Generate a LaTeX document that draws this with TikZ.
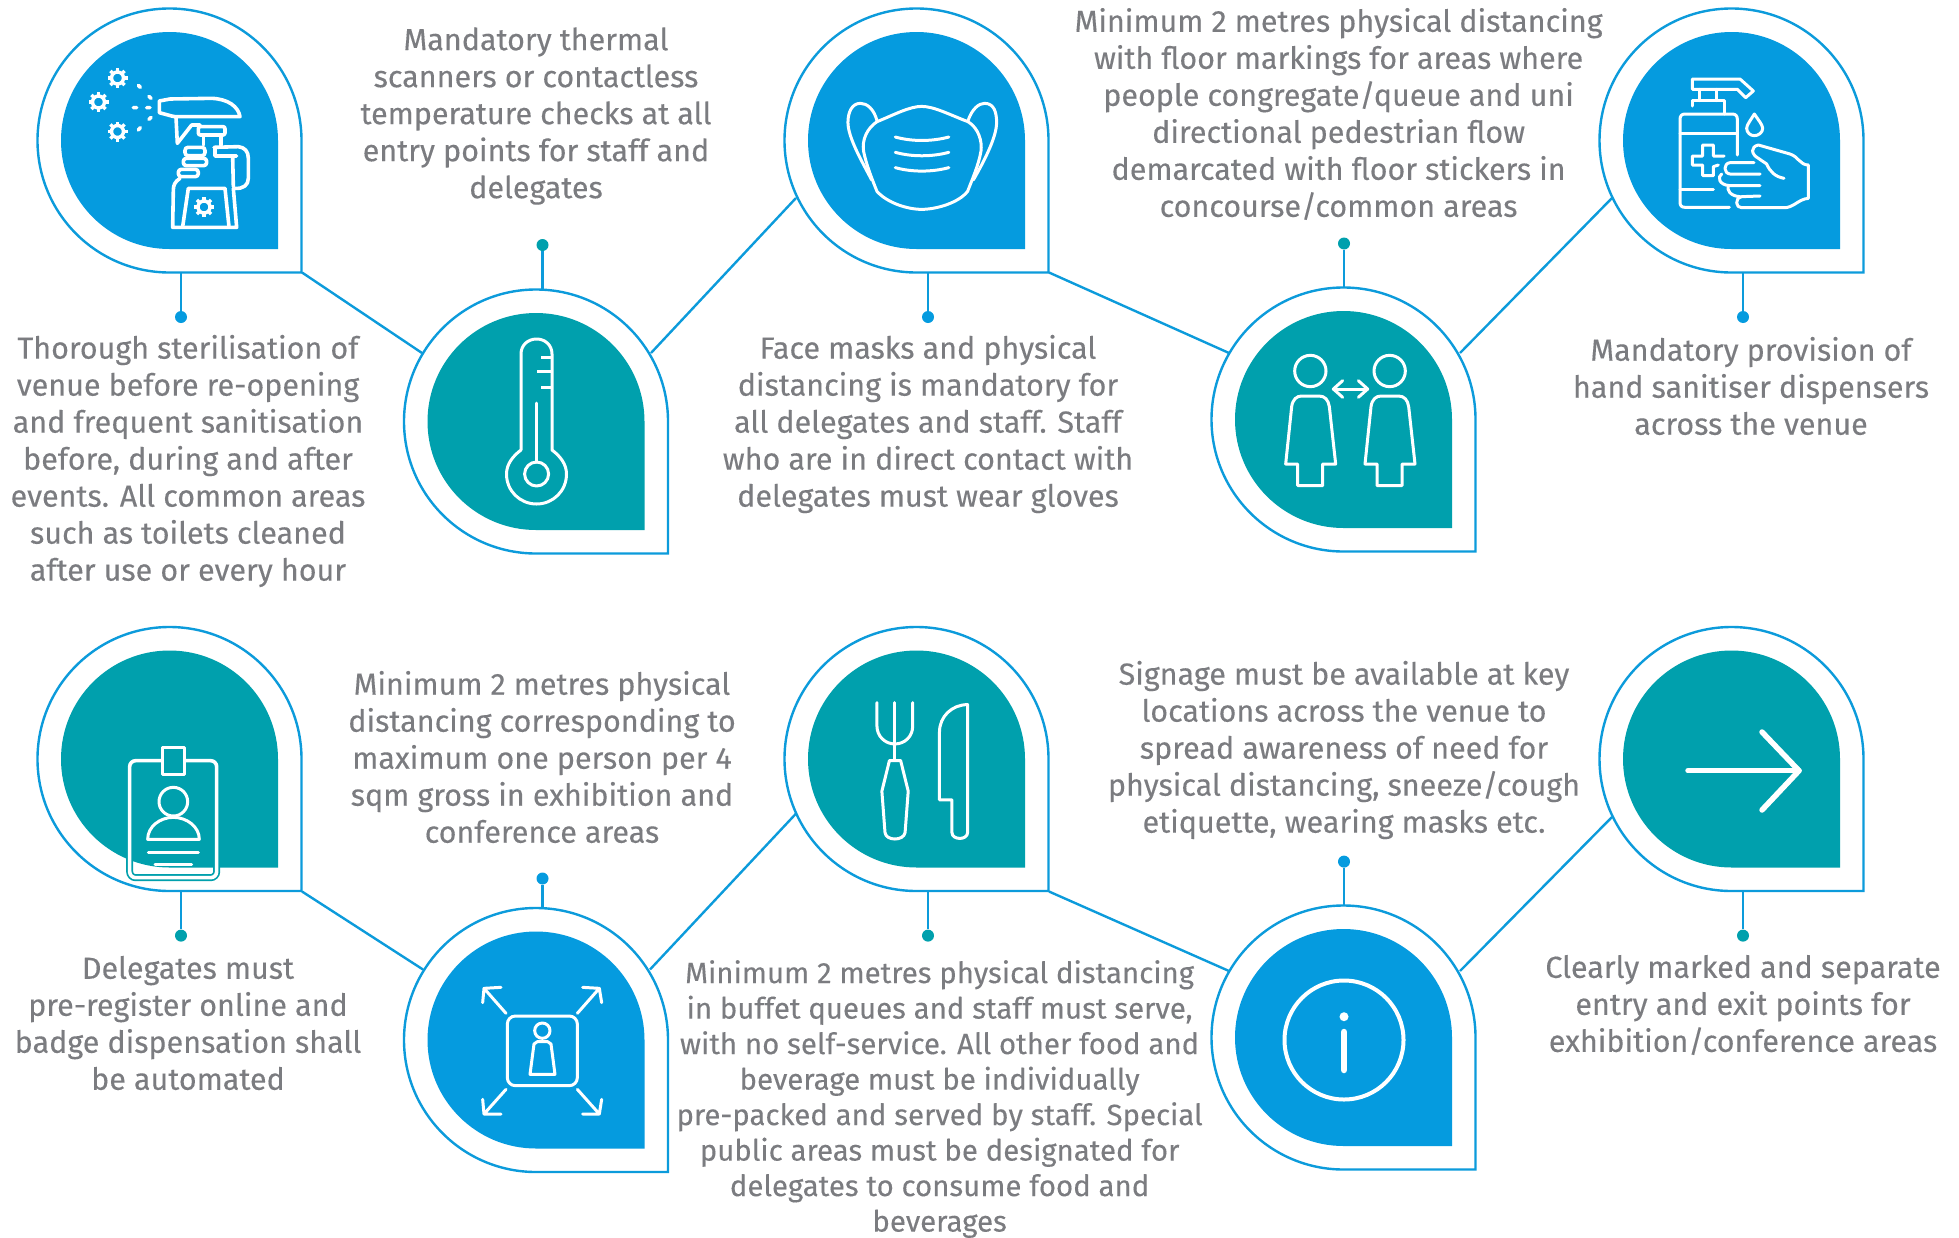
\documentclass[tikz,border=0pt]{standalone}
\usepackage{fontspec}
\setmainfont{Fira Sans}[FakeBold=0.25]
\definecolor{pblue}{HTML}{059BDF}
\definecolor{pteal}{HTML}{00A0AD}
\definecolor{pline}{HTML}{0C9BDB}
\definecolor{ptext}{HTML}{7B7C80}
\newcommand{\pinpath}{(1,0) .. controls (1,-.5523) and (.5523,-1) .. (0,-1) .. controls (-.5523,-1) and (-1,-.5523) .. (-1,0) .. controls (-1,.5523) and (-.5523,1) .. (0,1) -- (1,1) -- cycle}
\newcommand{\pindraw}[2]{%
  \draw[pinout,shift={(#1)},scale=132] \pinpath;
  \fill[#2,shift={(#1)},scale=108.5] \pinpath;}
\newcommand{\gearat}[3]{%
  \begin{scope}[shift={(#1,#2)}]
    \draw[white,line width=3.4pt,line cap=butt] (0,0) circle[radius=#3*0.6];
    \foreach \a in {0,45,...,315}{\draw[white,line width=3.4pt,line cap=butt] (\a:#3*0.7) -- (\a:#3);}
  \end{scope}}
\tikzset{
  pinout/.style={draw=pline,fill=white,line width=2.4pt},
  link/.style={draw=pline,line width=2.4pt},
  ico/.style={draw=white,line width=3pt,line cap=round,line join=round},
  icob/.style={ico,line width=3.6pt},
  dotb/.style={circle,fill=pblue,minimum size=12pt,inner sep=0pt},
  dott/.style={circle,fill=pteal,minimum size=12pt,inner sep=0pt},
  body/.style={text=ptext,align=center,inner sep=0pt,font=\fontsize{30.5}{37}\selectfont},
  bodysm/.style={text=ptext,align=center,inner sep=0pt,font=\fontsize{29.4}{35.5}\selectfont},
  cropa/.style={xscale=1/2.24,yscale=1/2.613},
  cropb/.style={xscale=1/2.24,yscale=1/2.541},
  cropt/.style={scale=1/3}
}
\begin{document}
\begin{tikzpicture}[x=1pt,y=-1pt]
\useasboundingbox (0,0) rectangle (1959,1237);
% pin centres
\coordinate (p1) at (169.5,140.5);
\coordinate (p2) at (536,421.5);
\coordinate (p3) at (916.5,140.5);
\coordinate (p4) at (1343.5,419.5);
\coordinate (p5) at (1731.5,140.5);
\coordinate (p6) at (169.5,759);
\coordinate (p7) at (536,1040);
\coordinate (p8) at (916.5,759);
\coordinate (p9) at (1343.5,1037.5);
\coordinate (p10) at (1731.5,759);
% connector ends
\coordinate (c1) at (302,272.5);
\coordinate (c2l) at (422,353);
\coordinate (c2r) at (651,353);
\coordinate (c3l) at (796,198);
\coordinate (c3) at (1049,272.5);
\coordinate (c4l) at (1229,353);
\coordinate (c4r) at (1460,353);
\coordinate (c5l) at (1612,198);
\coordinate (c6) at (302,891.5);
\coordinate (c7l) at (423,969.5);
\coordinate (c7r) at (650,969.5);
\coordinate (c8l) at (796,813.6);
\coordinate (c8) at (1049,891.5);
\coordinate (c9l) at (1229,971);
\coordinate (c9r) at (1460,971);
\coordinate (c10l) at (1612,817);
\coordinate (s1) at (181,272.5);
\coordinate (s2) at (542.5,290);
\coordinate (s3) at (928,272.5);
\coordinate (s4) at (1344,287);
\coordinate (s5) at (1743,272.5);
\coordinate (s6) at (181,891.5);
\coordinate (s7) at (542.5,908);
\coordinate (s8) at (928,891.5);
\coordinate (s9) at (1344,905);
\coordinate (s10) at (1743,891.5);
% dots
\node[dotb] (d1) at (181,317) {};
\node[dott] (d2) at (542.5,245) {};
\node[dotb] (d3) at (928,317) {};
\node[dott] (d4) at (1344,243.5) {};
\node[dotb] (d5) at (1743,317) {};
\node[dott] (d6) at (181,935.6) {};
\node[dotb] (d7) at (542.5,878.5) {};
\node[dott] (d8) at (928,935.6) {};
\node[dotb] (d9) at (1344,861.6) {};
\node[dott] (d10) at (1743,935.6) {};
% connectors
\draw[link] (c1) -- (c2l);
\draw[link] (c2r) -- (c3l);
\draw[link] (c3) -- (c4l);
\draw[link] (c4r) -- (c5l);
\draw[link] (c6) -- (c7l);
\draw[link] (c7r) -- (c8l);
\draw[link] (c8) -- (c9l);
\draw[link] (c9r) -- (c10l);
\foreach \n in {1,...,10}{\draw[link] (s\n) -- (d\n);}
% pins
\pindraw{p1}{pblue}
\pindraw{p2}{pteal}
\pindraw{p3}{pblue}
\pindraw{p4}{pteal}
\pindraw{p5}{pblue}
\pindraw{p6}{pteal}
\pindraw{p7}{pblue}
\pindraw{p8}{pteal}
\pindraw{p9}{pblue}
\pindraw{p10}{pteal}
% ---- spray
\begin{scope}[shift={(60,30)},cropt]
\draw[icob] (298,213) -- (330,207) -- (455,205) .. controls (505,207) and (535,230) .. (540,260) -- (345,260) -- (335,258) -- (298,248) -- cycle;
\draw[icob] (348,262) -- (352,340) -- (395,285) -- (420,285);
\draw[icob,rounded corners=2pt] (415,290) rectangle (495,315);
\draw[icob] (430,315) -- (430,345) (483,315) -- (483,345);
\draw[icob] (462,352) -- (535,350) .. controls (555,352) and (565,365) .. (565,385) -- (565,445) .. controls (565,465) and (550,477) .. (525,475);
\draw[icob] (465,352) -- (465,378) -- (530,378) (518,378) -- (520,470);
\draw[icob,rounded corners=3pt] (375,352) rectangle (435,377);
\draw[icob,rounded corners=3pt] (370,385) rectangle (440,407);
\draw[icob,rounded corners=3pt] (355,418) rectangle (415,440);
\draw[icob] (360,445) .. controls (345,455) and (340,465) .. (340,480) -- (338,592) -- (530,592) -- (520,475);
\draw[icob] (368,590) -- (385,475) -- (495,475) -- (507,590);
\draw[icob] (235,166) -- (241,172) (267,199) -- (273,205) (220,233) -- (230,233) (260,233) -- (270,233) (273,262) -- (267,268) (241,293) -- (235,300);
\end{scope}
\gearat{117.5}{78}{10}
\gearat{98.5}{102}{10}
\gearat{117.5}{131.5}{10}
\gearat{204}{207}{10}
% ---- thermometer
\draw[ico] (521,450) -- (521,354) .. controls (521,345) and (528,339) .. (536.6,339) .. controls (545,339) and (552,345) .. (552,354) -- (552,450) .. controls (560,456) and (566.5,464) .. (566.5,474) .. controls (566.5,491) and (553,504) .. (536.6,504) .. controls (520,504) and (506.5,491) .. (506.5,474) .. controls (506.5,464) and (513,456) .. (521,450);
\draw[ico] (536.6,474) circle[radius=12];
\draw[ico] (536.6,403) -- (536.6,462);
\draw[ico,line cap=butt] (541,357) -- (552,357) (537,371) -- (552,371) (541,387) -- (552,387);
% ---- mask
\begin{scope}[shift={(760,0)},cropa]
\draw[ico] (262,318) .. controls (300,300) and (335,278) .. (362,278) .. controls (390,278) and (425,300) .. (466,318) .. controls (490,335) and (498,370) .. (495,395) .. controls (490,430) and (475,470) .. (465,500) .. controls (445,530) and (395,547) .. (362,547) .. controls (330,547) and (285,530) .. (262,500) .. controls (250,465) and (238,430) .. (232,395) .. controls (228,365) and (240,335) .. (262,318) -- cycle;
\draw[ico] (262,315) .. controls (255,285) and (240,270) .. (225,270) .. controls (205,270) and (197,295) .. (197,320) .. controls (197,360) and (230,425) .. (250,470);
\draw[ico] (466,315) .. controls (475,285) and (490,270) .. (503,270) .. controls (525,270) and (530,295) .. (530,320) .. controls (530,360) and (500,425) .. (478,470);
\foreach \v in {358,398,438}{\draw[ico] (303,\v) .. controls (340,\v+12) and (385,\v+12) .. (423,\v);}
\end{scope}
% ---- two persons
\begin{scope}[shift={(1270,340)},cropt]
\foreach \d in {0,238}{
\begin{scope}[shift={(\d,0)}]
\draw[ico] (121,93) circle[radius=47];
\draw[ico,line cap=butt] (47,372) -- (65,200) .. controls (68,178) and (80,168) .. (95,168) -- (147,168) .. controls (165,168) and (175,180) .. (178,200) -- (197,372) -- (158,372) -- (158,437) -- (83,437) -- (83,372) -- cycle;
\end{scope}}
\draw[ico] (190,147) -- (293,147);
\draw[ico] (218,122) -- (190,147) -- (218,172);
\draw[ico] (265,122) -- (293,147) -- (265,172);
\end{scope}
% ---- sanitiser
\begin{scope}[shift={(1630,30)},cropt]
\draw[ico] (187,147) -- (330,147) -- (370,183) -- (347,203) -- (322,178) -- (187,178) -- cycle;
\draw[ico] (207,178) -- (207,212) (260,178) -- (260,212);
\draw[ico] (187,228) -- (187,212) -- (282,212) -- (282,252);
\draw[ico] (298,532) -- (165,532) .. controls (155,532) and (150,527) .. (150,517) -- (150,268) .. controls (150,258) and (155,252) .. (165,252) -- (307,252) .. controls (317,252) and (322,258) .. (322,268) -- (322,375);
\draw[ico] (150,310) -- (322,310) (150,478) -- (250,478);
\draw[ico] (265,405) -- (250,410) -- (250,437) -- (218,437) -- (218,405) -- (187,405) -- (187,378) -- (218,378) -- (218,345) -- (250,345) -- (250,378) -- (282,378);
\draw[ico] (373,252) .. controls (385,270) and (398,285) .. (398,295) .. controls (398,308) and (385,317) .. (373,317) .. controls (361,317) and (350,308) .. (350,295) .. controls (350,285) and (362,270) .. (373,252) -- cycle;
\draw[ico] (462,445) .. controls (435,440) and (420,425) .. (410,402) -- (385,385) .. controls (362,372) and (362,350) .. (385,345) -- (480,372) .. controls (505,380) and (510,405) .. (535,405) -- (535,505) .. controls (505,507) and (490,535) .. (460,533) -- (335,533) .. controls (318,535) and (312,505) .. (335,500) -- (390,498);
\draw[ico] (372,398) -- (300,398) .. controls (280,400) and (280,430) .. (300,432) -- (390,432);
\draw[ico] (275,432) .. controls (262,440) and (265,465) .. (300,467) -- (390,467);
\draw[ico] (295,467) .. controls (290,480) and (300,498) .. (330,500);
\end{scope}
% ---- badge
\begin{scope}[shift={(110,730)},cropt]
\draw[pteal,line width=7pt,rounded corners=6pt] (59,92) rectangle (320,443);
\draw[ico,line width=3.6pt,rounded corners=6pt] (59,92) rectangle (320,443);
\draw[ico,fill=pteal] (158,52) rectangle (222,133);
\draw[ico] (190,215) circle[radius=43];
\draw[ico] (113,328) .. controls (113,290) and (150,262) .. (190,262) .. controls (230,262) and (268,290) .. (268,328) -- cycle;
\draw[ico] (115,367) -- (265,367) (135,402) -- (245,402);
\end{scope}
% ---- arrows out
\begin{scope}[shift={(460,970)},cropt]
\draw[ico,rounded corners=8pt] (142,138) rectangle (352,347);
\draw[ico] (247,182) circle[radius=23];
\draw[ico] (210,313) -- (285,313) -- (273,222) -- (263,215) -- (232,215) -- (222,222) -- cycle;
\draw[ico] (138,130) -- (72,55) (68,98) -- (72,55) -- (123,52);
\draw[ico] (352,130) -- (418,55) (368,52) -- (418,55) -- (425,98);
\draw[ico] (138,358) -- (72,432) (68,388) -- (72,432) -- (123,432);
\draw[ico] (352,358) -- (418,432) (368,432) -- (418,432) -- (425,388);
\end{scope}
% ---- cutlery
\begin{scope}[shift={(760,620)},cropb]
\draw[ico] (262,210) -- (262,270) .. controls (262,295) and (280,315) .. (302,315) .. controls (325,315) and (342,295) .. (342,270) -- (342,210);
\draw[ico] (302,210) -- (302,355);
\draw[ico] (290,357) -- (315,357) -- (332,435) -- (325,540) .. controls (322,562) and (282,562) .. (280,540) -- (273,435) -- cycle;
\draw[ico] (465,215) -- (465,540) .. controls (465,560) and (430,560) .. (430,540) -- (430,457) -- (402,457) -- (402,285) .. controls (402,245) and (430,215) .. (465,215) -- cycle;
\end{scope}
% ---- info
\draw[ico,line width=4pt] (1344,1040) circle[radius=59.5];
\fill[white] (1344,1016.7) circle[radius=4.5];
\draw[ico,line width=6.5pt] (1344,1032) -- (1344,1070);
% ---- arrow
\draw[ico,line width=5.5pt] (1688,770.7) -- (1799,770.7);
\draw[ico,line width=5.5pt] (1762,732) -- (1799,770.7) -- (1762,810);
% ---- texts
\node[body] (t1) at (188,461) {Thorough sterilisation of\\venue before re-opening\\and frequent sanitisation\\before, during and after\\events. All common areas\\such as toilets cleaned\\after use or every hour};
\node[body] (t2) at (536,116) {Mandatory thermal\\scanners or contactless\\temperature checks at all\\entry points for staff and\\delegates};
\node[body] (t3) at (928,424) {Face masks and physical\\distancing is mandatory for\\all delegates and staff. Staff\\who are in direct contact with\\delegates must wear gloves};
\node[body] (t4) at (1338.6,114) {Minimum 2 metres physical distancing\\with floor markings for areas where\\people congregate/queue and uni\\directional pedestrian flow\\demarcated with floor stickers in\\concourse/common areas};
\node[body] (t5) at (1751,386) {Mandatory provision of\\hand sanitiser dispensers\\across the venue};
\node[body] (t6) at (188,1023) {Delegates must\\pre-register online and\\badge dispensation shall\\be automated};
\node[body] (t7) at (542,757) {Minimum 2 metres physical\\distancing corresponding to\\maximum one person per 4\\sqm gross in exhibition and\\conference areas};
\node[bodysm] (t8) at (939.6,1099) {Minimum 2 metres physical distancing\\in buffet queues and staff must serve,\\with no self-service. All other food and\\beverage must be individually\\pre-packed and served by staff. Special\\public areas must be designated for\\delegates to consume food and\\beverages};
\node[body] (t9) at (1344,750) {Signage must be available at key\\locations across the venue to\\spread awareness of need for\\physical distancing, sneeze/cough\\etiquette, wearing masks etc.};
\node[body] (t10) at (1743,1005) {Clearly marked and separate\\entry and exit points for\\exhibition/conference areas};
\end{tikzpicture}
\end{document}
